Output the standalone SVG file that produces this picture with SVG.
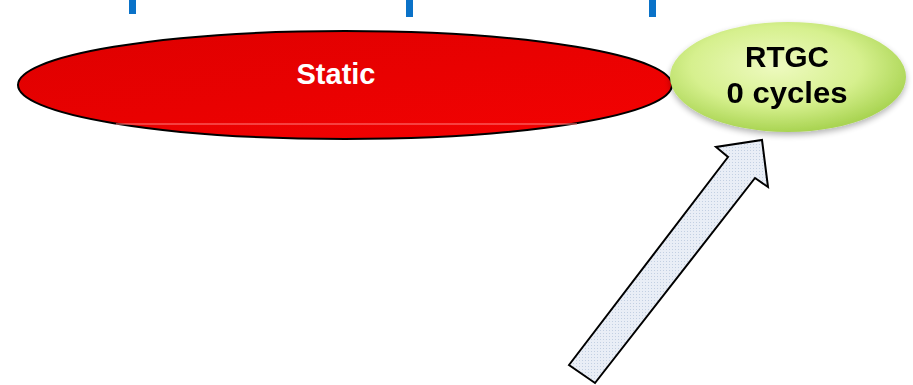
<svg xmlns="http://www.w3.org/2000/svg" width="913" height="385" viewBox="0 0 913 385">
<defs>
<style>
.lbl{font-family:"Liberation Sans",Arial,sans-serif;font-weight:bold;text-anchor:middle}
.tick{fill:#0a72c8}
</style>
<linearGradient id="red" x1="0" y1="0" x2="1" y2="1">
<stop offset="0" stop-color="#de0000"/>
<stop offset="1" stop-color="#f40202"/>
</linearGradient>
<radialGradient id="green" cx="0.45" cy="0.4" r="0.6">
<stop offset="0" stop-color="#eefac0"/>
<stop offset="0.6" stop-color="#d6f08e"/>
<stop offset="1" stop-color="#a9d452"/>
</radialGradient>
<filter id="sh" x="-20%" y="-20%" width="140%" height="150%">
<feGaussianBlur in="SourceAlpha" stdDeviation="3"/>
<feOffset dx="0" dy="3" result="b"/>
<feComponentTransfer><feFuncA type="linear" slope="0.3"/></feComponentTransfer>
<feMerge><feMergeNode/><feMergeNode in="SourceGraphic"/></feMerge>
</filter>
<pattern id="dots" width="3" height="3" patternUnits="userSpaceOnUse">
<rect width="3" height="3" fill="#e9eef6"/>
<rect width="1" height="1" fill="#c3d0e2"/>
</pattern>
</defs>
<g id="ticks">
<rect class="tick" x="129" y="0" width="7" height="14"/>
<rect class="tick" x="406" y="0" width="7" height="17"/>
<rect class="tick" x="649" y="0" width="7" height="17"/>
</g>
<g id="static">
<ellipse cx="345" cy="85" rx="327" ry="54" fill="url(#red)" stroke="#000" stroke-width="2"/>
<line x1="116" y1="124" x2="577" y2="124" stroke="#ff8080" stroke-width="1"/>
<text class="lbl" x="336" y="84" font-size="29" fill="#fff">Static</text>
</g>
<g id="rtgc" filter="url(#sh)">
<ellipse cx="788" cy="77" rx="118" ry="55" fill="url(#green)"/>
<text class="lbl" x="787" y="67" font-size="29" fill="#000" textLength="84" lengthAdjust="spacingAndGlyphs">RTGC</text>
<text class="lbl" x="787" y="103" font-size="29" fill="#000" textLength="121" lengthAdjust="spacingAndGlyphs">0 cycles</text>
</g>
<g id="connectors">
<polygon points="569,365 728,157 716,147 762,140 768,187 755,178 595,383" fill="url(#dots)" stroke="#000" stroke-width="2" stroke-linejoin="miter"/>
</g>
</svg>
